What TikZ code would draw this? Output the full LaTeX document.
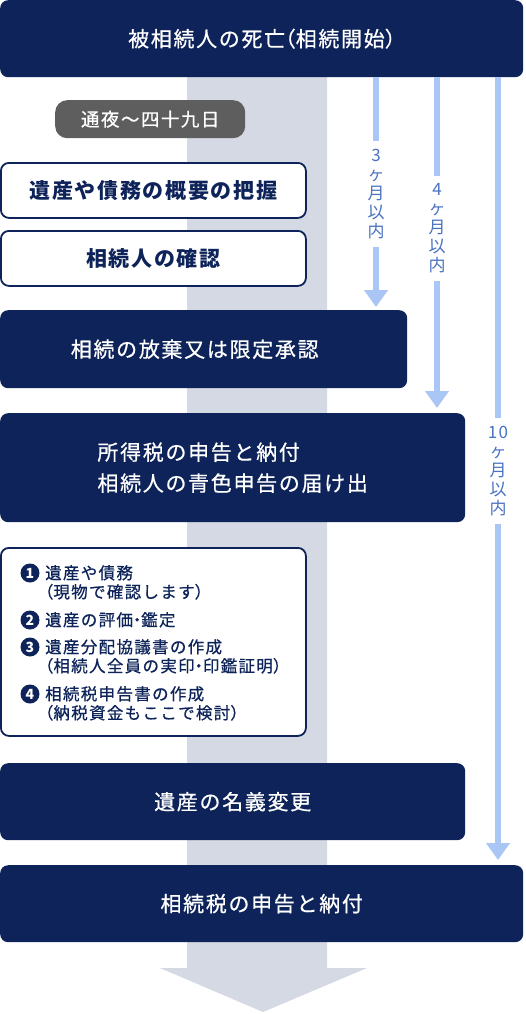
\documentclass[tikz,border=0pt]{standalone}
\usepackage{fontspec}
\setmainfont{Noto Sans CJK JP}[LetterSpace=8]
\newfontfamily\medfont{Noto Sans CJK JP}[LetterSpace=8, FakeBold=0.6]
\usetikzlibrary{arrows.meta,positioning}
\definecolor{navy}{HTML}{0D2359}
\definecolor{band}{HTML}{D5D9E4}
\definecolor{lightblue}{HTML}{A9C6F5}
\definecolor{labelblue}{HTML}{4A72C2}
\definecolor{pillgray}{HTML}{5E5E5E}
% half-width punctuation
\newcommand\halfw[1]{{\addfontfeature{RawFeature=+halt}#1}}

\begin{document}
\begin{tikzpicture}[x=1pt, y=-1pt,
  darkbox/.style={fill=navy, text=white, rounded corners=8pt, anchor=north west, inner sep=0pt, align=left, font=\medfont\fontsize{21}{31}\selectfont},
  lightbox/.style={draw=navy, line width=1.8pt, fill=white, text=navy, rounded corners=8pt, anchor=north west, inner sep=0pt, font=\bfseries\fontsize{21}{24}\selectfont},
  pill/.style={fill=pillgray, text=white, rounded corners=12pt, anchor=north west, inner sep=0pt, font=\medfont\fontsize{18.5}{20}\selectfont},
  num/.style={circle, fill=navy, text=white, inner sep=0pt, minimum size=19pt, font=\bfseries\fontsize{14}{14}\selectfont},
  item/.style={anchor=north west, text=navy, align=left, inner sep=0pt, font=\medfont\fontsize{16.5}{19}\selectfont},
  period/.style={fill=white, text=labelblue, align=center, inner xsep=2pt, inner ysep=8pt, font=\fontsize{17}{19}\selectfont},
  barr/.style={draw=lightblue, line width=6pt, -{Triangle[width=23pt,length=17pt]}}]
  \useasboundingbox (0,0) rectangle (525,1014);
  % background flow arrow
  \fill[band] (187,77) -- (327,77) -- (327,968) -- (367,968) -- (263,1012) -- (160,968) -- (187,968) -- cycle;

  \node[darkbox, minimum width=523pt, minimum height=77pt, align=center] (death) at (0,0) {被相続人の死亡\halfw{（}相続開始\halfw{）}};
  \node[pill, minimum width=190pt, minimum height=38pt] (wake) at (55,100) {通夜〜四十九日};
  \node[lightbox, minimum width=305pt, minimum height=55pt] (assets) at (0,162) {遺産や債務の概要の把握};
  \node[lightbox, minimum width=305pt, minimum height=55pt] (heirs) at (0,230) {相続人の確認};
  \node[darkbox, minimum width=407pt, minimum height=78pt] (renounce) at (0,310) {相続の放棄又は限定承認\hspace*{18pt}};
  \node[darkbox, minimum width=465pt, minimum height=109pt] (income) at (0,413) {所得税の申告と納付\\相続人の青色申告の届け出};

  % estate steps
  \node[lightbox, minimum width=305pt, minimum height=188pt] (steps) at (0,547) {};
  \node[num] (n1) at (30,573) {1};
  \node[item] (s1) at (45,565) {遺産や債務\\\halfw{（}現物で確認します\halfw{）}};
  \node[num] (n2) at (30,620) {2};
  \node[item] (s2) at (45,612) {遺産の評価\halfw{・}鑑定};
  \node[num] (n3) at (30,647) {3};
  \node[item] (s3) at (45,639) {遺産分配協議書の作成\\\halfw{（}相続人全員の実印\halfw{・}印鑑証明\halfw{）}};
  \node[num] (n4) at (30,694) {4};
  \node[item] (s4) at (45,686) {相続税申告書の作成\\\halfw{（}納税資金もここで検討\halfw{）}};

  \node[darkbox, minimum width=465pt, minimum height=77pt] (transfer) at (0,763) {遺産の名義変更};
  \node[darkbox, minimum width=523pt, minimum height=77pt] (taxreturn) at (0,865) {相続税の申告と納付};

  % deadlines
  \coordinate (m3) at (376,0);
  \coordinate (m4) at (437,0);
  \coordinate (m10) at (498,0);
  \draw[barr, shorten >=3pt] (death.south -| m3) -- (renounce.north -| m3)
    node[period, midway] (p3) {3\\ヶ\\月\\以\\内};
  \draw[barr, shorten >=5pt] (death.south -| m4) -- (income.north -| m4)
    node[period, pos=0.45] (p4) {4\\ヶ\\月\\以\\内};
  \draw[barr, shorten >=5pt] (death.south -| m10) -- (taxreturn.north -| m10)
    node[period, midway] (p10) {10\\ヶ\\月\\以\\内};
\end{tikzpicture}
\end{document}
